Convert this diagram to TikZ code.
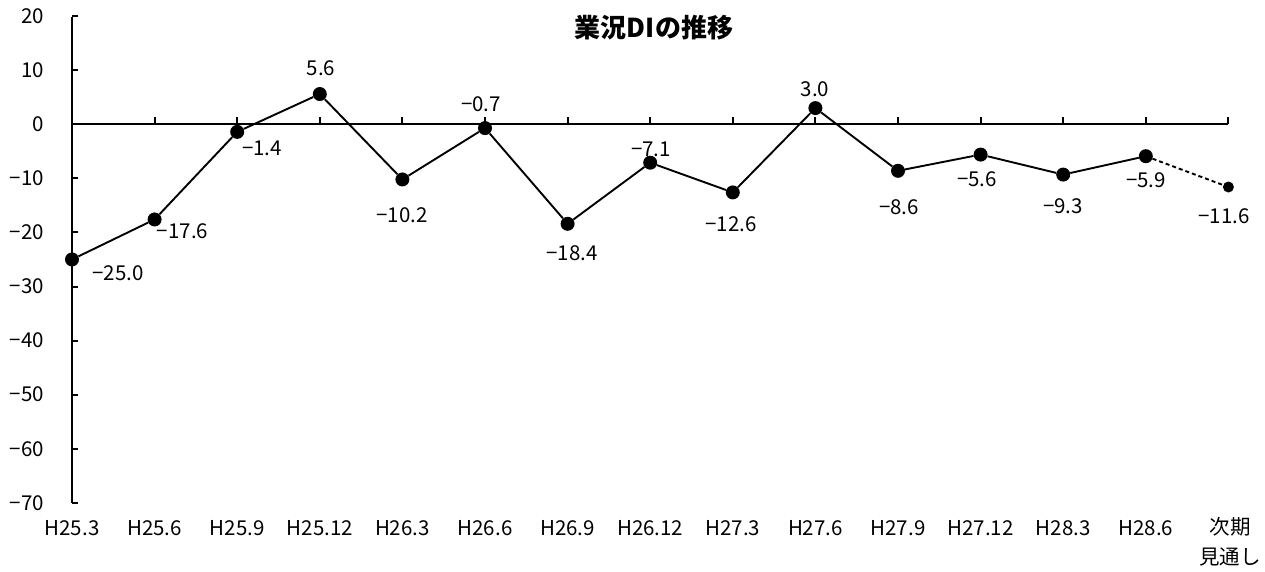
\documentclass[tikz,border=0pt]{standalone}
\usepackage{fontspec}
\setmainfont{Noto Sans CJK JP}
\begin{document}
\begin{tikzpicture}[x=1pt,y=-1pt,
  axisline/.style={line width=2pt,black},
  series/.style={line width=1.9pt,black},
  dot/.style={circle,fill=black,inner sep=0pt,minimum size=14pt},
  smalldot/.style={circle,fill=black,inner sep=0pt,minimum size=11pt},
  lbl/.style={font=\fontsize{20.5}{24}\selectfont,inner sep=0pt},
  ttl/.style={font=\fontsize{26}{30}\selectfont\bfseries,inner sep=0pt}]
\useasboundingbox (0,0) rectangle (1265,571);
% axes
\coordinate (ytop) at (72,16.7);
\coordinate (ybot) at (72,503.3);
\coordinate (xl) at (72,124.3);
\coordinate (xr) at (1228.4,124.3);
\draw[axisline] (ytop) -- (ybot);
\draw[axisline] (xl) -- (xr);
\foreach \v/\t in {20/20,10/10,0/0,-10/−10,-20/−20,-30/−30,-40/−40,-50/−50,-60/−60,-70/−70}{
  \draw[axisline] (72,{124.3-5.407*\v}) -- (78,{124.3-5.407*\v});
  \node[lbl,anchor=east] (y\v) at (44,{124.3-5.407*\v}) {\t};
}
\foreach \k in {1,...,14}{
  \draw[axisline] ({72+82.6*\k},124.3) -- ({72+82.6*\k},116.5);
}
% category labels
\foreach \t [count=\k from 0] in {H25.3,H25.6,H25.9,H25.12,H26.3,H26.6,H26.9,H26.12,H27.3,H27.6,H27.9,H27.12,H28.3,H28.6}{
  \node[lbl] (c\k) at ({72+82.6*\k},528.5) {\t};
}
\node[lbl,anchor=north,align=center,font=\fontsize{20.5}{30}\selectfont] (c14) at (1230,517) {次期\\見通し};
% title
\node[ttl] (title) at (654,28) {業況DIの推移};
% points
\foreach \v [count=\i from 0] in {-25.0,-17.6,-1.4,5.6,-10.2,-0.7,-18.4,-7.1,-12.6,3.0,-8.6,-5.6,-9.3,-5.9}{
  \node[dot] (p\i) at ({72+82.6*\i},{124.3-5.407*\v}) {};
}
\node[smalldot] (p14) at ({72+82.6*14},{124.3-5.407*(-11.6)}) {};
\draw[series] (p0) -- (p1) -- (p2) -- (p3) -- (p4) -- (p5) -- (p6) -- (p7) -- (p8) -- (p9) -- (p10) -- (p11) -- (p12) -- (p13);
\draw[series,dash pattern=on 4pt off 3pt] (p13) -- (p14);
% data labels
\node[lbl] (d0) at (118,273) {−25.0};
\node[lbl] (d1) at (182.5,231.5) {−17.6};
\node[lbl] (d2) at (262,148) {−1.4};
\node[lbl] (d3) at (321,68) {5.6};
\node[lbl] (d4) at (402,215) {−10.2};
\node[lbl] (d5) at (481,104) {−0.7};
\node[lbl] (d6) at (572,253) {−18.4};
\node[lbl] (d7) at (651,149) {−7.1};
\node[lbl] (d8) at (731,224) {−12.6};
\node[lbl] (d9) at (815,89) {3.0};
\node[lbl] (d10) at (899,207) {−8.6};
\node[lbl] (d11) at (977,179) {−5.6};
\node[lbl] (d12) at (1063,206) {−9.3};
\node[lbl] (d13) at (1146,180) {−5.9};
\node[lbl] (d14) at (1224,216) {−11.6};
\end{tikzpicture}
\end{document}
